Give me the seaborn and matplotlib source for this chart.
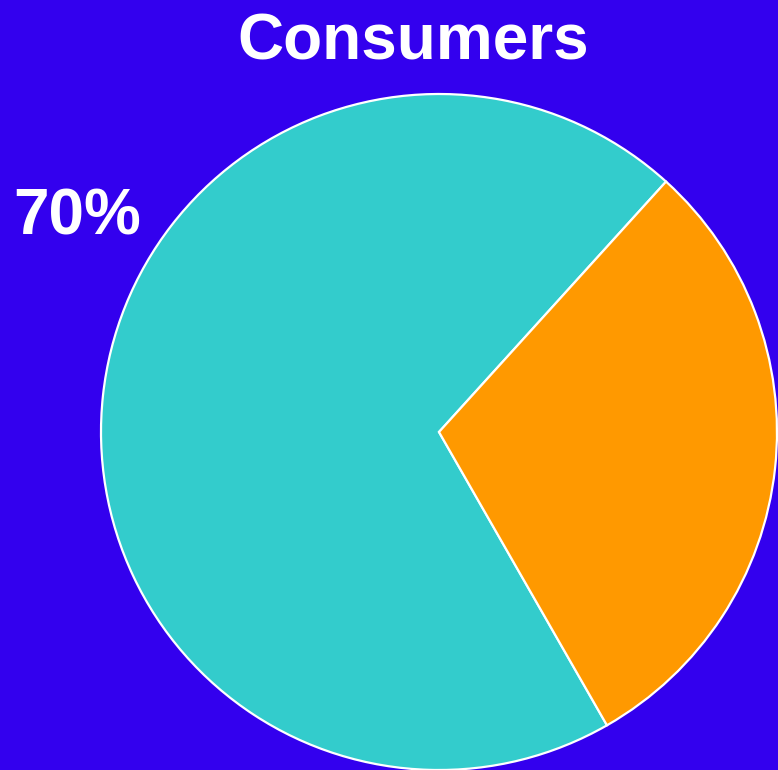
import matplotlib
matplotlib.use("Agg")
import matplotlib.pyplot as plt
import seaborn as sns

# Share of consumers
segments = ["Group A", "Group B"]
shares = [70, 30]
colors = sns.color_palette(["#33CCCC", "#FF9900"])
title = "Consumers"

sns.set_style("white")
plt.rcParams["font.family"] = ["Liberation Sans", "DejaVu Sans"]

bg = "#3300EE"
fig = plt.figure(figsize=(7.78, 7.70), dpi=100, facecolor=bg)
ax = fig.add_axes([101 / 778, 0 / 770, 676 / 778, 676 / 770])
ax.set_facecolor(bg)

wedges, _ = ax.pie(
    shares,
    colors=colors,
    startangle=47.8,
    counterclock=True,
    radius=1.0,
    wedgeprops=dict(edgecolor="white", linewidth=1.6),
)
ax.set_xlim(-1, 1)
ax.set_ylim(-1, 1)
ax.set_aspect("equal")
ax.axis("off")

# percentage label for the largest segment
ax.text(-1.071, 0.635, f"{shares[0]}%", color="white", fontsize=46,
        fontweight="bold", ha="center", va="center", clip_on=False)

fig.text(413.5 / 778, 1 - 42 / 770, title, color="white", fontsize=46,
         fontweight="bold", ha="center", va="center")

fig.savefig("out.png", dpi=100, facecolor=bg)
